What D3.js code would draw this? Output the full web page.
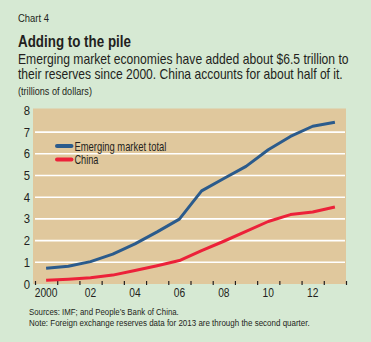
<!DOCTYPE html>
<html>
<head>
<meta charset="utf-8">
<script src="https://cdn.jsdelivr.net/npm/d3@7"></script>
<style>
  html, body { margin: 0; padding: 0; background: #d6e9d3; }
  svg text { font-family: "Liberation Sans", Arial, sans-serif; fill: #231f20; }
</style>
</head>
<body>
<svg id="chart" width="371" height="342"></svg>
<script>
// Foreign exchange reserves, trillions of dollars (2013 = through Q2)
const years = [2000, 2001, 2002, 2003, 2004, 2005, 2006, 2007, 2008, 2009, 2010, 2011, 2012, 2013];
const emergingTotal = [0.73, 0.82, 1.03, 1.38, 1.85, 2.4, 2.99, 4.29, 4.86, 5.42, 6.19, 6.8, 7.27, 7.45];
const china = [0.17, 0.22, 0.29, 0.41, 0.62, 0.84, 1.08, 1.54, 1.97, 2.42, 2.88, 3.2, 3.32, 3.55];
const yTicks = [0, 1, 2, 3, 4, 5, 6, 7, 8];
const xLabels = ["2000", "02", "04", "06", "08", "10", "12"];

const svg = d3.select("#chart");
const m = { left: 35, right: 346, top: 110.4, bottom: 284 };

// year boundaries on the x axis; points sit mid-year
const x = d3.scaleLinear().domain([2000, 2014]).range([m.left, m.right]);
const y = d3.scaleLinear().domain([0, 8]).range([m.bottom, m.top]);

// condensed look: draw at origin, then squeeze horizontally to a fixed width
function txt(px, py, size, str, width, opts = {}) {
  const t = svg.append("text").attr("font-size", size).text(str);
  if (opts.bold) t.attr("font-weight", "bold");
  if (opts.anchor) t.attr("text-anchor", opts.anchor);
  const k = width ? width / t.node().getComputedTextLength() : 1;
  t.attr("transform", `translate(${px},${py}) scale(${k},1)`);
  return t;
}

svg.append("rect").attr("width", 371).attr("height", 342).attr("fill", "#d6e9d3");

// header
txt(18, 21.5, 10.5, "Chart 4", 31);
txt(18, 47, 16.5, "Adding to the pile", 113, { bold: true });
txt(18, 64, 14, "Emerging market economies have added about $6.5 trillion to", 331);
txt(18, 78.5, 14, "their reserves since 2000. China accounts for about half of it.", 325);
txt(18, 94.5, 10, "(trillions of dollars)", 74);

// plot background
svg.append("rect").attr("x", 33).attr("y", 108.5).attr("width", m.right - 33).attr("height", m.bottom - 108.5)
  .attr("fill", "#e0c89d");

// gridlines
svg.append("g").selectAll("line").data(yTicks.filter(d => d > 0 && d < 8)).join("line")
  .attr("x1", 35).attr("x2", m.right - 1)
  .attr("y1", d => y(d)).attr("y2", d => y(d))
  .attr("stroke", "#fff").attr("stroke-width", 1.6);

// y labels
yTicks.forEach(d => txt(30, y(d) + 4.5, 12.5, String(d), 6.3, { anchor: "end" }));

// x ticks at year boundaries
const xAxis = d3.axisBottom(x).tickValues(d3.range(2000, 2015)).tickSize(-4).tickFormat("");
const gx = svg.append("g").attr("transform", `translate(0,${m.bottom + 1})`).call(xAxis);
gx.select(".domain").remove();
gx.selectAll(".tick line").attr("stroke", "#231f20").attr("stroke-width", 1.2);

xLabels.forEach((d, i) => txt(x(2000 + i * 2 + 0.5), 296.5, 12.5, d, d.length * 5.7, { anchor: "middle" }));

// series
const line = d3.line().x((d, i) => x(years[i] + 0.5)).y(d => y(d));
svg.append("path").datum(china).attr("d", line)
  .attr("fill", "none").attr("stroke", "#ec2139").attr("stroke-width", 3).attr("stroke-linejoin", "round");
svg.append("path").datum(emergingTotal).attr("d", line)
  .attr("fill", "none").attr("stroke", "#2b5b8c").attr("stroke-width", 3).attr("stroke-linejoin", "round");

// legend
const legend = [
  { name: "Emerging market total", color: "#2b5b8c", yy: 146, w: 92 },
  { name: "China", color: "#ec2139", yy: 159.5, w: 24 }
];
legend.forEach(d => {
  svg.append("line").attr("x1", 57).attr("x2", 71.5).attr("y1", d.yy).attr("y2", d.yy)
    .attr("stroke", d.color).attr("stroke-width", 4).attr("stroke-linecap", "round");
  txt(74.5, d.yy + 4.5, 12.5, d.name, d.w);
});

// footer
txt(29, 315, 9.5, "Sources: IMF; and People\u2019s Bank of China.", 150);
txt(29, 326, 9.5, "Note: Foreign exchange reserves data for 2013 are through the second quarter.", 281);
</script>
</body>
</html>
